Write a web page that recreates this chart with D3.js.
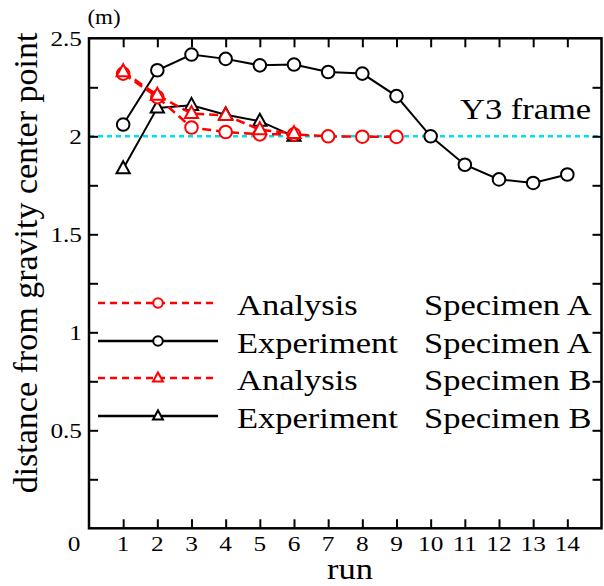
<!DOCTYPE html>
<html><head><meta charset="utf-8">
<script src="https://cdn.jsdelivr.net/npm/d3@7"></script>
<style>html,body{margin:0;padding:0;background:#fff}svg{display:block}
text{font-family:"Liberation Serif","Times New Roman",Times,Tinos,serif;}</style>
</head><body>
<script>
const runs = [1,2,3,4,5,6,7,8,9,10,11,12,13,14];
const expA = [2.06,2.337,2.417,2.395,2.362,2.366,2.328,2.32,2.205,2.0,1.855,1.78,1.762,1.805];
const anaA = [2.32,2.20,2.045,2.022,2.01,2.01,2.0,1.998,1.997];
const expB = [1.835,2.145,2.158,2.11,2.077,2.0];
const anaB = [2.33,2.21,2.116,2.107,2.034,2.014];
const xTicks = [1,2,3,4,5,6,7,8,9,10,11,12,13,14];
const yTickLabels = [0.5,1,1.5,2,2.5];
const yMinorTicks = [0.25,0.5,0.75,1,1.25,1.5,1.75,2,2.25];
const refLine = 2.0;
const legendRows = [
  {name:"Analysis", spec:"Specimen A", kind:"ana", sym:"circle"},
  {name:"Experiment", spec:"Specimen A", kind:"exp", sym:"circle"},
  {name:"Analysis", spec:"Specimen B", kind:"ana", sym:"tri"},
  {name:"Experiment", spec:"Specimen B", kind:"exp", sym:"tri"}
];

const W=604,H=586;
const L=89,R=601.5,T=38.3,B=528.3;
const svg = d3.select("body").append("svg").attr("width",W).attr("height",H);
const x = d3.scaleLinear().domain([0,15]).range([L,R]);
const y = d3.scaleLinear().domain([0,2.5]).range([B,T]);
const SX = 1.15;
function txt(px,py,s,size,anchor,sx){
  return svg.append("text").attr("transform",`translate(${px},${py}) scale(${sx===undefined?SX:sx},1)`)
    .attr("font-size",size).attr("text-anchor",anchor||"start")
    .attr("fill","#000").text(s);
}
const RED="#ff0000", CYAN="#00e0e8";

// reference line
svg.append("line").attr("x1",L).attr("x2",R).attr("y1",y(refLine)).attr("y2",y(refLine))
  .attr("stroke",CYAN).attr("stroke-width",2.5).attr("stroke-dasharray","5,4");

// axes ticks (inward)
const tk = 9;
svg.append("g").attr("transform",`translate(0,${B})`).call(d3.axisBottom(x).tickValues(xTicks).tickSize(-tk).tickFormat("")).call(g=>g.select(".domain").remove());
svg.append("g").attr("transform",`translate(0,${T})`).call(d3.axisTop(x).tickValues(xTicks).tickSize(-tk).tickFormat("")).call(g=>g.select(".domain").remove());
svg.append("g").attr("transform",`translate(${L},0)`).call(d3.axisLeft(y).tickValues(yMinorTicks).tickSize(-tk).tickFormat("")).call(g=>g.select(".domain").remove());
svg.append("g").attr("transform",`translate(${R},0)`).call(d3.axisRight(y).tickValues(yMinorTicks).tickSize(-tk).tickFormat("")).call(g=>g.select(".domain").remove());
svg.selectAll(".tick line").attr("stroke","#000").attr("stroke-width",2);
svg.append("rect").attr("x",L).attr("y",T).attr("width",R-L).attr("height",B-T)
  .attr("fill","none").attr("stroke","#000").attr("stroke-width",2.5);

// tick labels
xTicks.forEach(v=>txt(x(v),551,String(v),22,"middle"));
txt(74,551,"0",22,"middle");
yTickLabels.forEach(v=>txt(82,y(v)+8,String(v),22,"end"));

// titles
txt(104,24,"(m)",20,"middle");
txt(350,579,"run",30,"middle");
svg.append("text").attr("transform",`translate(37,${263}) rotate(-90)`)
  .attr("font-size",34).attr("text-anchor","middle").text("distance from gravity center point");
txt(460,119,"Y3 frame",30,"start");

const tri = s => `M0,${-s*0.62}L${s*0.55},${s*0.38}L${-s*0.55},${s*0.38}Z`;
const line = d3.line().x((d,i)=>x(runs[i])).y(d=>y(d));

function series(data, kind, sym){
  const col = kind==="ana"?RED:"#000";
  const p = svg.append("path").datum(data).attr("d",line).attr("fill","none")
    .attr("stroke",col).attr("stroke-width",kind==="ana"?2.5:2);
  if(kind==="ana") p.attr("stroke-dasharray","9,5");
  const g = svg.append("g");
  data.forEach((d,i)=>{
    if(sym==="circle") g.append("circle").attr("cx",x(runs[i])).attr("cy",y(d)).attr("r",6.3)
      .attr("fill","#fff").attr("stroke",col).attr("stroke-width",2);
    else g.append("path").attr("d",tri(12)).attr("transform",`translate(${x(runs[i])},${y(d)})`)
      .attr("fill","#fff").attr("stroke",col).attr("stroke-width",2);
  });
}
series(expA,"exp","circle");
series(expB,"exp","tri");
series(anaA,"ana","circle");
series(anaB,"ana","tri");

// legend
const legY=[303,341,378,416];
legendRows.forEach((r,i)=>{
  const col = r.kind==="ana"?RED:"#000";
  const ly = legY[i];
  const ln = svg.append("line").attr("x1",98).attr("x2",218).attr("y1",ly).attr("y2",ly)
    .attr("stroke",col).attr("stroke-width",2.5);
  if(r.kind==="ana") ln.attr("stroke-dasharray","7,5");
  if(r.sym==="circle") svg.append("circle").attr("cx",158).attr("cy",ly).attr("r",4.8)
    .attr("fill","#fff").attr("stroke",col).attr("stroke-width",2);
  else svg.append("path").attr("d",tri(9)).attr("transform",`translate(158,${ly})`)
    .attr("fill","#fff").attr("stroke",col).attr("stroke-width",2);
  txt(237,ly+12,r.name,30,"start");
  txt(424,ly+12,r.spec,30,"start");
});
</script>
</body></html>
